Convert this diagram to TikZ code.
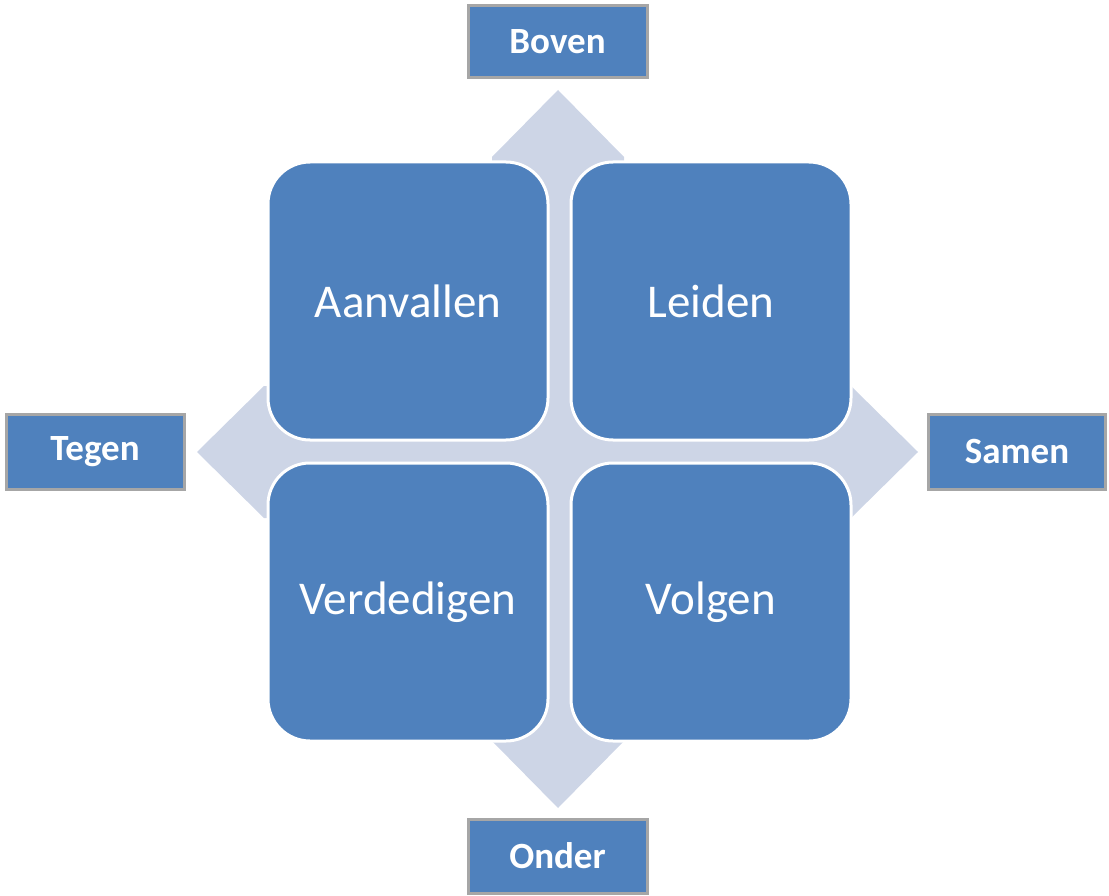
\documentclass[tikz,border=0pt]{standalone}
\usepackage{fontspec}
\setmainfont{Carlito}
\definecolor{boxblue}{HTML}{4F81BD}
\definecolor{lightarrow}{HTML}{CDD5E6}
\definecolor{edgegray}{HTML}{A6A6A6}
\tikzset{
  quad/.style={draw=white, line width=3pt, fill=boxblue, rounded corners=42pt,
    minimum width=280pt, minimum height=278pt, inner sep=0pt, text=white,
    font=\fontsize{47}{54}\selectfont},
  tagbox/.style={draw=edgegray, line width=3pt, fill=boxblue, inner sep=0pt,
    text=white, font=\fontsize{37}{44}\selectfont\bfseries},
}
\begin{document}
\begin{tikzpicture}[x=1pt,y=-1pt]
\useasboundingbox (0,0) rectangle (1109,896);
% background four-way arrow
\fill[lightarrow] (558,90) -- (624,157) -- (624,386) -- (851,386)
  -- (918,452) -- (851,518) -- (624,518) -- (624,741)
  -- (558,808) -- (492,741) -- (492,518) -- (264,518)
  -- (197,452) -- (264,386) -- (492,386) -- (492,157) -- cycle;
% quadrants
\node[quad] (aanvallen) at (408,301) {Aanvallen};
\node[quad] (leiden) at (711,301) {Leiden};
\node[quad] (verdedigen) at (408,602) {Verdedigen};
\node[quad] (volgen) at (711,602) {Volgen};
% labels
\node[tagbox, minimum width=179pt, minimum height=72pt] (boven) at (557.5,42) {Boven};
\node[tagbox, minimum width=179pt, minimum height=74pt] (onder) at (557.5,856) {Onder};
\node[tagbox, minimum width=178pt, minimum height=75pt] (tegen) at (95,452) {Tegen};
\node[tagbox, minimum width=177pt, minimum height=75pt] (samen) at (1017,452) {Samen};
\end{tikzpicture}
\end{document}
